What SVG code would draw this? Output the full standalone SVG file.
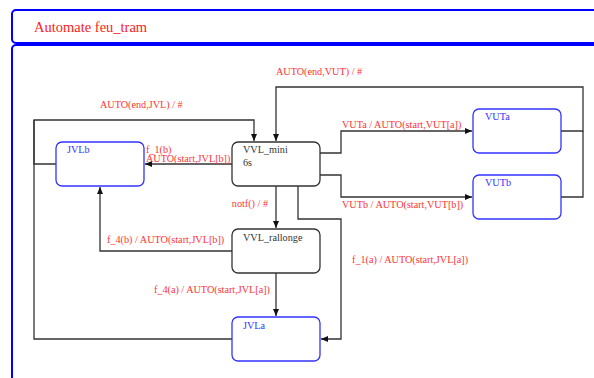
<svg xmlns="http://www.w3.org/2000/svg" width="594" height="378" viewBox="0 0 594 378">
<style>
.frame{fill:#fff;stroke:#0000ff;stroke-width:2}
.bn{fill:#fff;stroke:#333;stroke-width:1.3}
.un{fill:#fff;stroke:#3333ff;stroke-width:1.3}
.c{fill:none;stroke:#333;stroke-width:1.3}
.t{font-family:"Liberation Serif",serif;font-size:10.2px}
.bt{fill:#333}
.ut{fill:#3333ff}
.rt{fill:#ff3333}
.title{font-family:"Liberation Serif",serif;font-size:14.5px;fill:#ff2020}
</style>
<defs>
<marker id="a" markerWidth="8" markerHeight="6" refX="7" refY="3" orient="auto" markerUnits="userSpaceOnUse">
<path d="M0,0 L7,3 L0,6 Z" fill="#111"/>
</marker>
</defs>
<rect width="594" height="378" fill="#fff"/>
<rect class="frame" x="12" y="10" width="600" height="33" rx="4"/>
<text class="title" x="34" y="32">Automate feu_tram</text>
<rect class="frame" x="12" y="45" width="600" height="400" rx="4"/>
<g id="connectors">
<path class="c" d="M56,164 H34 V120 H254 V141" marker-end="url(#a)"/>
<path class="c" d="M232,339 H34 V120"/>
<text class="t rt" x="100" y="108">AUTO(end,JVL) / #</text>
<path class="c" d="M561,131 H583 V87 H276 V141" marker-end="url(#a)"/>
<path class="c" d="M561,197 H583 V131"/>
<text class="t rt" x="276" y="75">AUTO(end,VUT) / #</text>
<path class="c" d="M320,153 H341 V131 H472" marker-end="url(#a)"/>
<text class="t rt" x="342" y="128">VUTa / AUTO(start,VUT[a])</text>
<path class="c" d="M320,175 H341 V197 H472" marker-end="url(#a)"/>
<text class="t rt" x="342" y="208">VUTb / AUTO(start,VUT[b])</text>
<path class="c" d="M232,164 H145" marker-end="url(#a)"/>
<text class="t rt" x="146" y="152.5">f_1(b)</text>
<text class="t rt" x="146" y="162">AUTO(start,JVL[b])</text>
<path class="c" d="M276,186 V228" marker-end="url(#a)"/>
<text class="t rt" x="268" y="207" text-anchor="end">notf() / #</text>
<path class="c" d="M232,251 H100 V187" marker-end="url(#a)"/>
<text class="t rt" x="107" y="243">f_4(b) / AUTO(start,JVL[b])</text>
<path class="c" d="M276,273 V316" marker-end="url(#a)"/>
<text class="t rt" x="270" y="293" text-anchor="end">f_4(a) / AUTO(start,JVL[a])</text>
<path class="c" d="M298,186 V219 H341 V339 H321" marker-end="url(#a)"/>
<text class="t rt" x="352" y="263">f_1(a) / AUTO(start,JVL[a])</text>
</g>
<g id="JVLb">
<rect class="un" x="56" y="142" width="88" height="44" rx="6"/>
<text class="t ut" x="67" y="153">JVLb</text>
</g>
<g id="VVL_mini">
<rect class="bn" x="232" y="142" width="88" height="44" rx="6"/>
<text class="t bt" x="243" y="153">VVL_mini</text>
<text class="t bt" x="243" y="166">6s</text>
</g>
<g id="VUTa">
<rect class="un" x="473" y="109" width="88" height="44" rx="6"/>
<text class="t ut" x="485" y="120">VUTa</text>
</g>
<g id="VUTb">
<rect class="un" x="473" y="175" width="88" height="44" rx="6"/>
<text class="t ut" x="485" y="186">VUTb</text>
</g>
<g id="VVL_rallonge">
<rect class="bn" x="232" y="229" width="88" height="44" rx="6"/>
<text class="t bt" x="243" y="241">VVL_rallonge</text>
</g>
<g id="JVLa">
<rect class="un" x="232" y="317" width="88" height="44" rx="6"/>
<text class="t ut" x="243" y="329">JVLa</text>
</g>
</svg>
